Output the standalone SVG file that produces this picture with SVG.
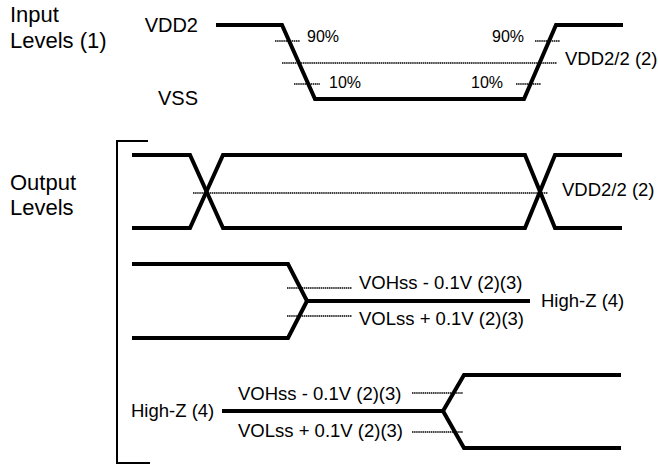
<svg xmlns="http://www.w3.org/2000/svg" width="658" height="464" viewBox="0 0 658 464">
<style>
text{font-family:"Liberation Sans",Arial,sans-serif;fill:#000}
.lbl{font-size:22px}
.v{font-size:20px}
.m{font-size:18.5px}
.p{font-size:16px}
.w{fill:none;stroke:#000;stroke-width:4;stroke-linejoin:miter}
.d{fill:none;stroke:#000;stroke-width:1.5;stroke-dasharray:1.5 0.6}
.b{fill:none;stroke:#000;stroke-width:2}
</style>
<rect width="658" height="464" fill="#fff"/>
<g id="labels">
<text class="lbl" x="10" y="22">Input</text>
<text class="lbl" x="10" y="48">Levels (1)</text>
<text class="lbl" x="10" y="190">Output</text>
<text class="lbl" x="10" y="215">Levels</text>
<text class="v" x="198" y="32" text-anchor="end">VDD2</text>
<text class="v" x="198" y="105" text-anchor="end">VSS</text>
</g>
<g id="input-waveform">
<polyline class="w" points="216,25 282,25 315,99 524,99 556,25 623,25"/>
<line class="d" x1="275" y1="41" x2="300" y2="41"/>
<line class="d" x1="294" y1="84" x2="320" y2="84"/>
<line class="d" x1="282" y1="63" x2="557" y2="63"/>
<line class="d" x1="535" y1="41" x2="560" y2="41"/>
<line class="d" x1="516" y1="84" x2="541" y2="84"/>
<text class="p" x="307" y="42">90%</text>
<text class="p" x="329" y="88">10%</text>
<text class="p" x="492" y="42">90%</text>
<text class="p" x="471" y="88">10%</text>
<text class="m" x="565" y="65">VDD2/2 (2)</text>
</g>
<g id="bracket">
<polyline class="b" points="148,141 117,141 117,463 150,463"/>
</g>
<g id="output-row1">
<polyline class="w" points="132,155 190,155 223,228 290,228"/>
<polyline class="w" points="132,228 190,228 223,155 290,155"/>
<line class="w" x1="288" y1="155" x2="525" y2="155"/>
<line class="w" x1="288" y1="228" x2="525" y2="228"/>
<polyline class="w" points="520,155 525,155 555,228 622,228"/>
<polyline class="w" points="520,228 525,228 555,155 622,155"/>
<line class="d" x1="193" y1="193" x2="548" y2="193"/>
<text class="m" x="562" y="196">VDD2/2 (2)</text>
</g>
<g id="output-row2">
<polyline class="w" points="132,264 288,264 307,301 530,301"/>
<polyline class="w" points="132,338 288,338 307,301"/>
<line class="d" x1="287" y1="288" x2="352" y2="288"/>
<line class="d" x1="287" y1="316" x2="352" y2="316"/>
<text class="m" x="359" y="289">VOHss - 0.1V (2)(3)</text>
<text class="m" x="359" y="325">VOLss + 0.1V (2)(3)</text>
<text class="m" x="541" y="307">High-Z (4)</text>
</g>
<g id="output-row3">
<polyline class="w" points="222,411 443,411 464,375 621,375"/>
<polyline class="w" points="443,411 464,448 621,448"/>
<line class="d" x1="412" y1="393" x2="463" y2="393"/>
<line class="d" x1="412" y1="432" x2="463" y2="432"/>
<text class="m" x="238" y="400">VOHss - 0.1V (2)(3)</text>
<text class="m" x="238" y="437">VOLss + 0.1V (2)(3)</text>
<text class="m" x="131" y="417">High-Z (4)</text>
</g>
</svg>
